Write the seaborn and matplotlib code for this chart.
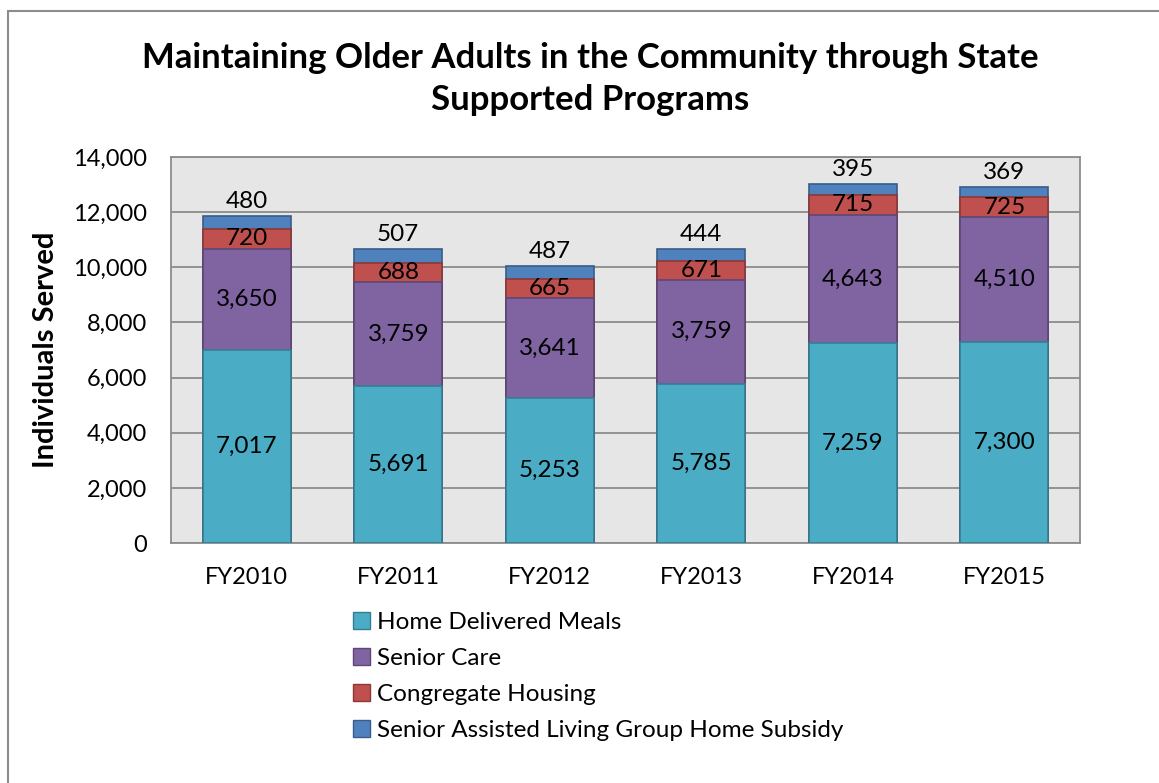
import numpy as np
import pandas as pd
import matplotlib
matplotlib.use("Agg")
import matplotlib.pyplot as plt
from matplotlib.patches import Patch, Rectangle
import seaborn as sns

# Data
years = ["FY2010", "FY2011", "FY2012", "FY2013", "FY2014", "FY2015"]
meals = [7017, 5691, 5253, 5785, 7259, 7300]
senior_care = [3650, 3759, 3641, 3759, 4643, 4510]
congregate = [720, 688, 665, 671, 715, 725]
assisted = [480, 507, 487, 444, 395, 369]

series = ["Home Delivered Meals", "Senior Care", "Congregate Housing",
          "Senior Assisted Living Group Home Subsidy"]
colors = ["#4BACC6", "#8064A2", "#C0504D", "#4F81BD"]
edges = ["#357D91", "#5C4776", "#8C3836", "#385D8A"]

sns.set_theme(style="white")
plt.rcParams['font.family'] = ['Lato', 'DejaVu Sans']
plt.rcParams['text.color'] = 'black'
plt.rcParams['axes.labelcolor'] = 'black'
plt.rcParams['xtick.color'] = 'black'
plt.rcParams['ytick.color'] = 'black'

df = pd.DataFrame({"year": years, "meals": meals, "care": senior_care,
                   "cong": congregate, "assist": assisted})
cols = ["meals", "care", "cong", "assist"]
cum = df[cols].cumsum(axis=1)

fig = plt.figure(figsize=(11.59, 7.83), dpi=100)
ax = fig.add_axes([0.1475, 0.3065, 0.7845, 0.493])
ax.set_facecolor("#E6E6E6")

# stacked bars: draw totals from top layer down
for i in range(3, -1, -1):
    sns.barplot(x=df["year"], y=cum[cols[i]], ax=ax, color=colors[i],
                edgecolor=edges[i], linewidth=1.2, width=0.58,
                saturation=1, zorder=3)

ax.set_ylim(0, 14000)
ax.set_xlim(-0.5, 5.5)
ax.set_yticks(range(0, 14001, 2000))
ax.set_yticklabels([f"{v:,}" for v in range(0, 14001, 2000)], fontsize=17)
ax.set_xticks(range(len(years)))
ax.set_xticklabels(years, fontsize=17)
ax.tick_params(axis="both", length=0, colors="black")
ax.tick_params(axis="y", pad=17)
ax.tick_params(axis="x", pad=17)
ax.yaxis.grid(True, color="#8C8C8C", linewidth=1.3, zorder=0)
ax.set_axisbelow(True)
for s in ax.spines.values():
    s.set_color("#8C8C8C")
    s.set_linewidth(1.3)
ax.set_xlabel("")
ax.set_ylabel("Individuals Served", fontsize=21, fontweight="bold",
              labelpad=10, color="black")

# value labels
for j in range(len(years)):
    base = 0
    for i, c in enumerate(cols[:3]):
        v = df[c][j]
        ax.text(j, base + v / 2, f"{v:,}", ha="center", va="center",
                fontsize=17.5, color="black", zorder=5)
        base += v
    ax.annotate(f"{df['assist'][j]:,}", (j, cum["assist"][j]),
                xytext=(0, 3), textcoords="offset points",
                ha="center", va="bottom", fontsize=17.5, color="black",
                zorder=5)

fig.text(0.509, 1 - 42 / 783,
         "Maintaining Older Adults in the Community through State\nSupported Programs",
         ha="center", va="top", fontsize=25, fontweight="bold",
         linespacing=1.4, color="black")

handles = [Patch(facecolor=colors[i], edgecolor=edges[i], label=series[i])
           for i in range(4)]
leg = fig.legend(handles=handles, loc="upper left",
                 bbox_to_anchor=(343 / 1159, 1 - 602 / 783), frameon=False,
                 fontsize=17.5, handlelength=0.7, handleheight=0.7,
                 handletextpad=0.3, labelspacing=0.62, borderaxespad=0)
for t in leg.get_texts():
    t.set_color("black")

fig.patches.append(Rectangle((8 / 1159, -0.1), 1.2, 1 - 11 / 783 + 0.1,
                             transform=fig.transFigure, fill=False,
                             edgecolor="#8C8C8C", linewidth=1.5))

fig.savefig("out.png", dpi=100)
